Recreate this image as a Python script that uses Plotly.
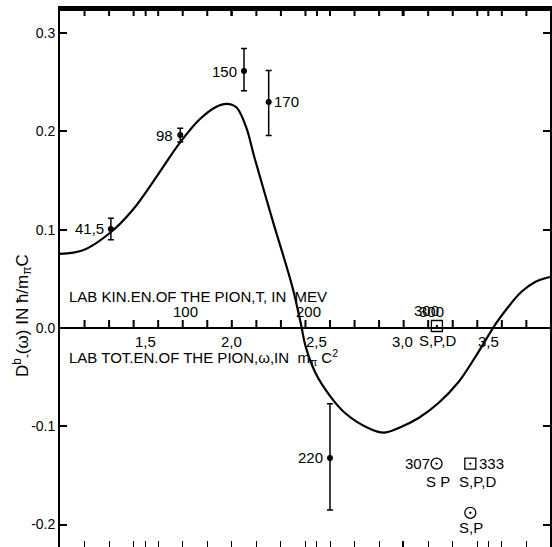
import plotly.graph_objects as go

# ---------------- data ----------------
M_PI = 139.6  # pion mass, MeV

# theoretical curve (omega in m_pi c^2, D in hbar/m_pi c)
curve_omega = [1.000, 1.134, 1.291, 1.424, 1.564, 1.698, 1.814, 1.913, 1.971, 2.029,
               2.085, 2.134, 2.240, 2.356, 2.405, 2.434, 2.492, 2.580, 2.667, 2.802,
               2.890, 2.977, 3.093, 3.209, 3.326, 3.424, 3.547, 3.616, 3.692, 3.773,
               3.860]
curve_D = [0.0753, 0.079, 0.0966, 0.120, 0.154, 0.188, 0.212, 0.225, 0.228, 0.2245,
           0.205, 0.174, 0.110, 0.042, 0.005, -0.019, -0.046, -0.070, -0.087, -0.102,
           -0.1065, -0.1017, -0.0916, -0.0763, -0.0549, -0.0295, 0.0051, 0.0214, 0.0366, 0.0468,
           0.0519]

# experimental points with error bars
pt_labels = ["41,5", "98", "150", "170", "220"]
pt_omega = [1.297, 1.702, 2.074, 2.218, 2.576]
pt_D = [0.1007, 0.1963, 0.2614, 0.2299, -0.1322]
pt_err_plus = [0.011, 0.007, 0.023, 0.032, 0.055]
pt_err_minus = [0.011, 0.007, 0.020, 0.034, 0.053]
pt_label_side = ["left", "left", "left", "right", "left"]

# phase-shift analysis points
ps_omega = [3.200, 3.198, 3.395, 3.395]
ps_D = [0.002, -0.138, -0.138, -0.188]
ps_symbol = ["square-open-dot", "circle-open-dot", "square-open-dot", "circle-open-dot"]
ps_energy = ["300", "307", "333", ""]
ps_waves = ["S,P,D", "S P", "S,P,D", "S,P"]

# axis ticks
y_tickvals = [-0.2, -0.1, 0.0, 0.1, 0.2, 0.3]
y_ticktext = ["-0.2", "-0.1", "0.0", "0.1", "0.2", "0.3"]
T_ticks = [20, 40, 60, 80, 100, 120, 140, 160, 180, 200, 220, 240, 260, 280, 300,
           320, 340, 360, 380]
T_labels = [100, 200, 300]
omega_ticks = [1.5, 2.0, 2.5, 3.0, 3.5]
omega_ticktext = ["1,5", "2,0", "2,5", "3,0", "3,5"]

X_RANGE = [1.0, 3.86]
Y_RANGE = [-0.2228, 0.3255]

FONT = "Liberation Sans, Arial, sans-serif"

# ---------------- figure ----------------
PLOT_H_PX = 547 - 8
unit_per_px = (Y_RANGE[1] - Y_RANGE[0]) / PLOT_H_PX

T_ticks_w = [1 + t / M_PI for t in T_ticks]
frame_ticks = sorted(set([round(v, 4) for v in T_ticks_w + omega_ticks]))
clear = "rgba(0,0,0,0)"

fig = go.Figure()

# middle T-axis ticks (pointing up from D = 0), drawn as one-sided bars
fig.add_trace(go.Scatter(
    x=T_ticks_w, y=[0.0] * len(T_ticks_w), mode="markers",
    marker=dict(size=2, color=clear),
    error_y=dict(type="data", symmetric=False,
                 array=[8 * unit_per_px] * len(T_ticks_w),
                 arrayminus=[0.0] * len(T_ticks_w),
                 color="black", thickness=2, width=0),
    hoverinfo="skip", showlegend=False))
# top frame ticks (pointing down from the top edge)
fig.add_trace(go.Scatter(
    x=frame_ticks, y=[Y_RANGE[1]] * len(frame_ticks), mode="markers",
    marker=dict(size=2, color=clear),
    error_y=dict(type="data", symmetric=False,
                 array=[0.0] * len(frame_ticks),
                 arrayminus=[8 * unit_per_px] * len(frame_ticks),
                 color="black", thickness=2, width=0),
    hoverinfo="skip", showlegend=False))

fig.add_trace(go.Scatter(
    x=curve_omega, y=curve_D, mode="lines",
    line=dict(color="black", width=2.2, shape="spline", smoothing=1.0),
    hoverinfo="skip", showlegend=False))

fig.add_trace(go.Scatter(
    x=pt_omega, y=pt_D, mode="markers",
    marker=dict(color="black", size=6),
    error_y=dict(type="data", symmetric=False, array=pt_err_plus,
                 arrayminus=pt_err_minus, color="black", thickness=1.5, width=3),
    showlegend=False))

fig.add_trace(go.Scatter(
    x=ps_omega, y=ps_D, mode="markers",
    marker=dict(color="black", size=11, symbol=ps_symbol, line=dict(width=1.3, color="black")),
    showlegend=False))

annotations = []
lab_font = dict(family=FONT, size=15, color="black")
for x, y, t, side in zip(pt_omega, pt_D, pt_labels, pt_label_side):
    annotations.append(dict(
        x=x, y=y, xref="x", yref="y", text=t, showarrow=False, font=lab_font,
        xanchor="right" if side == "left" else "left",
        xshift=-5 if side == "left" else 3, yshift=0))

# phase-shift labels
annotations.append(dict(x=ps_omega[0], y=ps_D[0], text=ps_energy[0], showarrow=False,
                        font=lab_font, xshift=-10, yshift=16))
annotations.append(dict(x=ps_omega[0], y=ps_D[0], text=ps_waves[0], showarrow=False,
                        font=lab_font, xshift=1, yshift=-14))
annotations.append(dict(x=ps_omega[1], y=ps_D[1], text=ps_energy[1], showarrow=False,
                        font=lab_font, xanchor="right", xshift=-5))
annotations.append(dict(x=ps_omega[1], y=ps_D[1], text=ps_waves[1], showarrow=False,
                        font=lab_font, xshift=1, yshift=-18))
annotations.append(dict(x=ps_omega[2], y=ps_D[2], text=ps_energy[2], showarrow=False,
                        font=lab_font, xanchor="left", xshift=7))
annotations.append(dict(x=ps_omega[2], y=ps_D[2], text=ps_waves[2], showarrow=False,
                        font=lab_font, xshift=7, yshift=-18))
annotations.append(dict(x=ps_omega[3], y=ps_D[3], text=ps_waves[3], showarrow=False,
                        font=lab_font, xshift=1, yshift=-15))

# middle axis labels
for t in T_labels:
    annotations.append(dict(x=1 + t / M_PI, y=0, text=str(t), showarrow=False,
                            font=lab_font, yshift=16, xshift=3))
for w, tt in zip(omega_ticks, omega_ticktext):
    annotations.append(dict(x=w, y=0, text=tt, showarrow=False,
                            font=lab_font, yshift=-14))

# axis captions
annotations.append(dict(x=0.014, y=0, xref="paper", yref="y", xanchor="left",
                        text="LAB KIN.EN.OF THE PION,T, IN  MEV", showarrow=False,
                        font=lab_font, yshift=31))
annotations.append(dict(x=0.014, y=0, xref="paper", yref="y", xanchor="left",
                        text="LAB TOT.EN.OF THE PION,\u03c9,IN  m<sub>\u03c0</sub> C<sup>2</sup>",
                        showarrow=False, font=lab_font, yshift=-30))
# y title
annotations.append(dict(x=-0.078, y=0.43, xref="paper", yref="paper",
                        xanchor="center", yanchor="middle",
                        text="D<sup>b</sup><sub>-</sub>(\u03c9) IN \u0127/m<sub>\u03c0</sub>C",
                        textangle=-90, showarrow=False,
                        font=dict(family=FONT, size=17, color="black")))

fig.update_layout(
    width=552, height=547, autosize=False,
    margin=dict(l=60, r=0, t=8, b=0),
    paper_bgcolor="white", plot_bgcolor="white",
    showlegend=False,
    annotations=annotations,
    shapes=[dict(type="line", xref="paper", yref="paper", x0=0, x1=1, y0=0.997, y1=0.997,
                 layer="above", line=dict(color="black", width=3))],
    xaxis=dict(range=X_RANGE, showgrid=False, zeroline=False, showline=True,
               linecolor="black", linewidth=2, mirror=True,
               ticks="inside", ticklen=6, tickwidth=1.3, tickcolor="black",
               tickmode="array", tickvals=frame_ticks, showticklabels=False),
    yaxis=dict(range=Y_RANGE, showgrid=False, zeroline=True, zerolinecolor="black",
               zerolinewidth=1.8, showline=True,
               linecolor="black", linewidth=1.8, mirror="ticks", ticks="inside",
               ticklen=7, tickwidth=1.5, tickcolor="black",
               tickmode="array", tickvals=y_tickvals, ticktext=y_ticktext,
               tickfont=dict(family=FONT, size=14, color="black")),
)

fig.write_html("out.html")
